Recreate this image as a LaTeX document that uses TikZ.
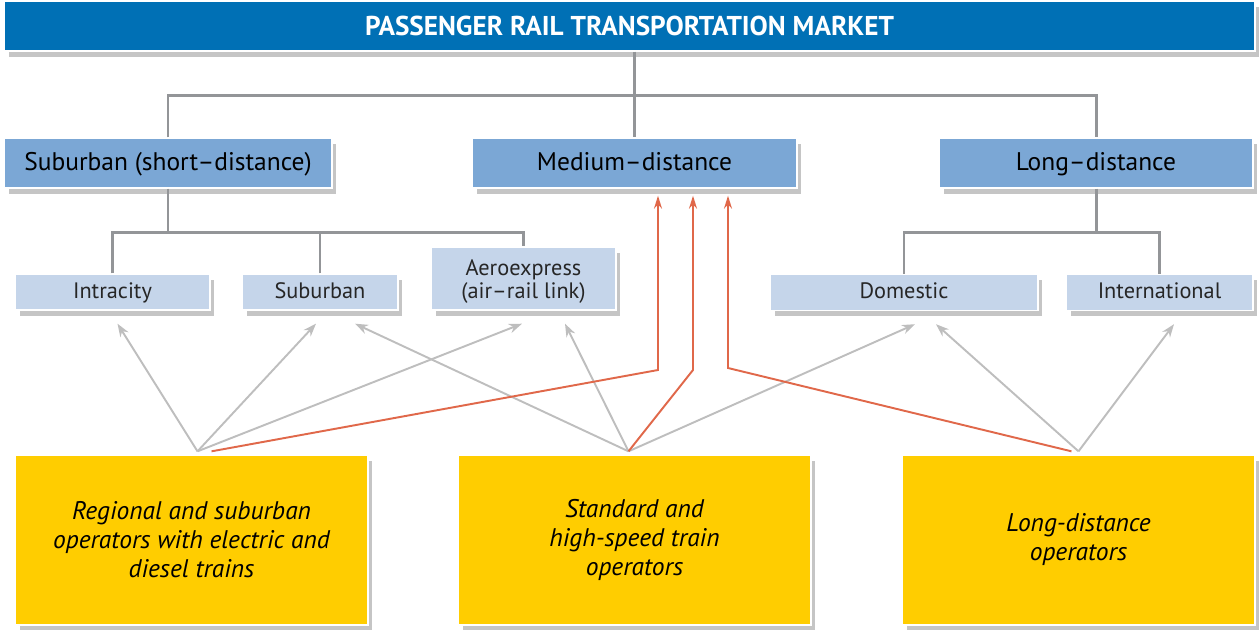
\documentclass[tikz,border=0pt]{standalone}
\usepackage{fontspec}
\setmainfont{PT Sans}
\usetikzlibrary{arrows.meta,positioning,shadows}
\definecolor{marketblue}{HTML}{0070B5}
\definecolor{segblue}{HTML}{7BA7D5}
\definecolor{subblue}{HTML}{C5D5EA}
\definecolor{opyellow}{HTML}{FFCD00}
\definecolor{linkred}{HTML}{E0684A}
\definecolor{treegray}{HTML}{939598}
\definecolor{arrowgray}{HTML}{BEBEBE}

\begin{document}
\begin{tikzpicture}[
  x=0.02cm, y=-0.02cm,
  box/.style={draw=white, line width=0.8pt, inner sep=2pt, align=center,
              drop shadow={shadow xshift=0.09cm, shadow yshift=-0.11cm,
                           opacity=0.3, fill=black!75}},
  market/.style={box, fill=marketblue, text=white, minimum width=25.02cm,
                 minimum height=1cm, font=\bfseries\fontsize{15.5}{18}\selectfont},
  segment/.style={box, fill=segblue, minimum height=1cm, text height=0.9em, text depth=0.1em,
                  font=\fontsize{14.5}{17}\selectfont},
  subseg/.style={box, fill=subblue, minimum height=0.72cm, text=black!85,
                 font=\fontsize{12.7}{14}\selectfont},
  oneline/.style={text height=0.85em, text depth=0.15em},
  operator/.style={box, fill=opyellow, minimum width=7.06cm, minimum height=3.4cm,
                   font=\itshape\fontsize{14.5}{16.5}\selectfont},
  tree/.style={draw=treegray, line width=1.7pt},
  serves/.style={-{Stealth[length=0.26cm, width=0.19cm]}, draw=arrowgray, line width=1.1pt},
  medlink/.style={-{Stealth[length=0.26cm, width=0.16cm]}, draw=linkred, line width=1.1pt}
]
\useasboundingbox (0,0) rectangle (1259,630);

% market and its three segments
\node[market] (market) at (629.5,26) {PASSENGER RAIL TRANSPORTATION MARKET};
\node[segment, minimum width=6.56cm] (short) at (168,163) {Suburban (short--distance)};
\node[segment, minimum width=6.5cm] (med) at (634.5,163) {Medium--distance};
\node[segment, minimum width=6.28cm] (long) at (1096,163) {Long--distance};

% sub-segments
\node[subseg, oneline, minimum width=3.9cm] (intra) at (112.5,292) {Intracity};
\node[subseg, oneline, minimum width=3.12cm] (sub) at (320,292) {Suburban};
\node[subseg, minimum width=3.7cm, minimum height=1.26cm] (aero) at (523.5,278.5)
  {\rule{0pt}{1em}Aeroexpress\\[-1pt](air--rail link)};
\node[subseg, oneline, minimum width=5.36cm] (dom) at (904,292.5) {Domestic};
\node[subseg, oneline, minimum width=3.74cm] (intl) at (1159.5,292.5) {International};

% operators
\node[operator] (reg) at (191.5,540) {Regional and suburban\\operators with electric and\\diesel trains};
\node[operator] (std) at (634.5,540) {Standard and\\high-speed train\\operators};
\node[operator] (ldo) at (1078.5,540) {Long-distance\\operators};

% tree
\coordinate (split1) at (634.5,95);
\coordinate (split2) at (168,232);
\coordinate (split3) at (1096,232);
\draw[tree] (med.north |- market.south) -- (med.north);
\draw[tree] (short.north) |- (split1) -| (long.north);
\draw[tree] (short.south) -- (split2);
\draw[tree] (intra.north) |- (split2) -| (aero.north);
\draw[tree] (sub.north) -- (sub.north |- split2);
\draw[tree] (long.south) -- (split3);
\draw[tree] (dom.north) |- (split3) -| (intl.north);

% who serves what
\coordinate (regsrc) at ([shift={(6,-3)}]reg.north);
\coordinate (stdsrc) at ([shift={(-6,-3)}]std.north);
\coordinate (ldosrc) at ([shift={(0,-3)}]ldo.north);
\draw[serves] (regsrc) -- ([shift={(5,13)}]intra.south);
\draw[serves] (regsrc) -- ([shift={(-4,13)}]sub.south);
\draw[serves] (regsrc) -- ([shift={(-1.5,13)}]aero.south);
\draw[serves] (stdsrc) -- ([shift={(35,13)}]sub.south);
\draw[serves] (stdsrc) -- ([shift={(41.5,13)}]aero.south);
\draw[serves] (stdsrc) -- ([shift={(11,13)}]dom.south);
\draw[serves] (ldosrc) -- ([shift={(32,13)}]dom.south);
\draw[serves] (ldosrc) -- ([shift={(14.5,13)}]intl.south);

\draw[medlink] ([xshift=8]regsrc) -- (658,370) -- ([shift={(23.5,7)}]med.south);
\draw[medlink] (stdsrc) -- (693,370) -- ([shift={(58.5,7)}]med.south);
\draw[medlink] ([xshift=-4]ldosrc) -- (728,368) -- ([shift={(93.5,7)}]med.south);

\end{tikzpicture}
\end{document}
